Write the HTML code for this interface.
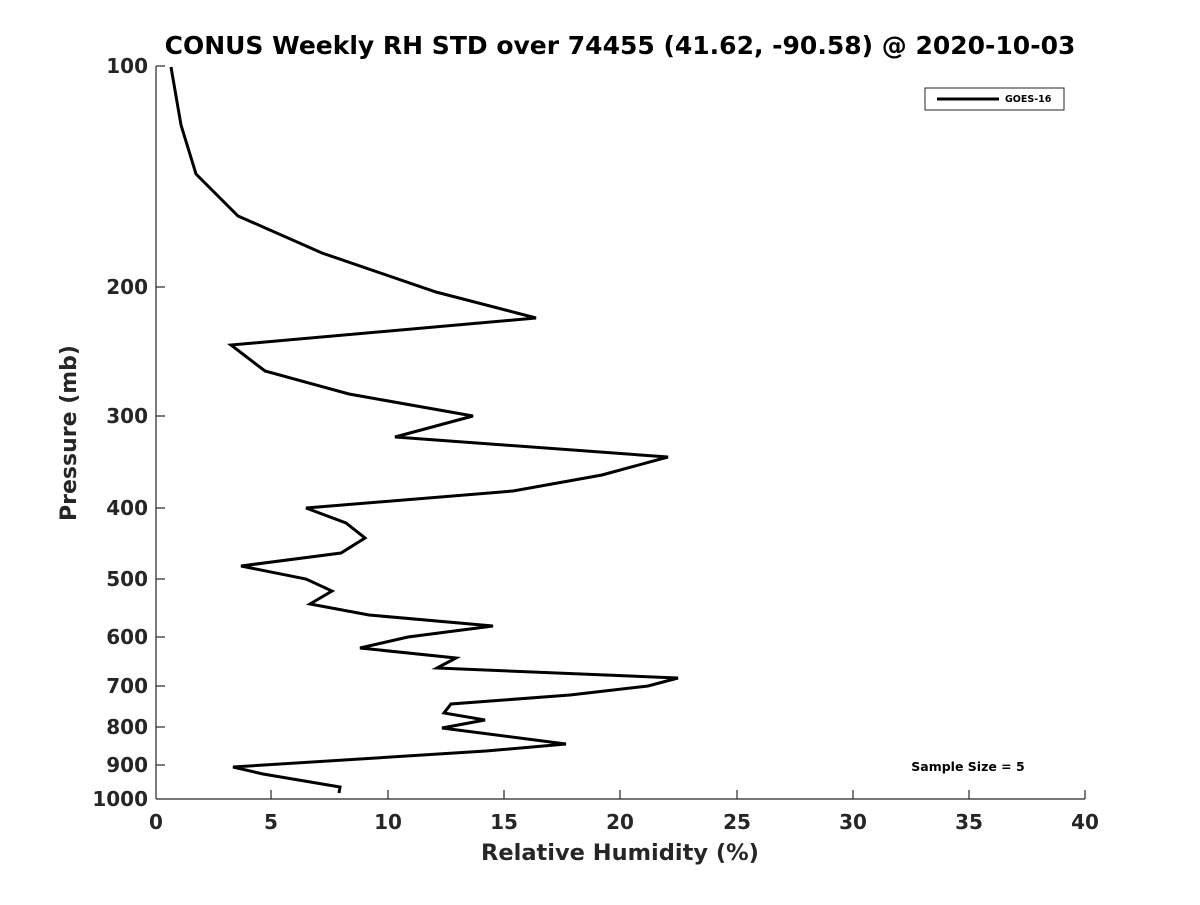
<!DOCTYPE html>
<html><head><meta charset="utf-8"><style>
html,body{margin:0;padding:0;background:#fff;}
svg text{font-family:"DejaVu Sans","Liberation Sans",sans-serif;font-weight:bold;fill:#262626;}
</style></head><body>
<svg width="1200" height="900" viewBox="0 0 1200 900" xmlns="http://www.w3.org/2000/svg">
<rect width="1200" height="900" fill="#fff"/>
<text x="620" y="54" font-size="25" text-anchor="middle" style="fill:#000">CONUS Weekly RH STD over 74455 (41.62, -90.58) @ 2020-10-03</text>
<g stroke="#262626" stroke-width="1.2" fill="none">
<line x1="156" y1="66" x2="156" y2="799"/>
<line x1="156" y1="799" x2="1085" y2="799"/>
<line x1="156" y1="66" x2="165" y2="66"/>
<line x1="156" y1="287" x2="165" y2="287"/>
<line x1="156" y1="416" x2="165" y2="416"/>
<line x1="156" y1="508" x2="165" y2="508"/>
<line x1="156" y1="579" x2="165" y2="579"/>
<line x1="156" y1="637" x2="165" y2="637"/>
<line x1="156" y1="686" x2="165" y2="686"/>
<line x1="156" y1="727" x2="165" y2="727"/>
<line x1="156" y1="765" x2="165" y2="765"/>
<line x1="271" y1="799" x2="271" y2="790"/>
<line x1="388" y1="799" x2="388" y2="790"/>
<line x1="504" y1="799" x2="504" y2="790"/>
<line x1="620" y1="799" x2="620" y2="790"/>
<line x1="737" y1="799" x2="737" y2="790"/>
<line x1="853" y1="799" x2="853" y2="790"/>
<line x1="969" y1="799" x2="969" y2="790"/>
<line x1="1085" y1="799" x2="1085" y2="790"/>
</g>
<g font-size="20" text-anchor="end">
<text x="148" y="73">100</text>
<text x="148" y="294">200</text>
<text x="148" y="423">300</text>
<text x="148" y="515">400</text>
<text x="148" y="586">500</text>
<text x="148" y="644">600</text>
<text x="148" y="693">700</text>
<text x="148" y="734">800</text>
<text x="148" y="772">900</text>
<text x="148" y="806">1000</text>
</g>
<g font-size="20" text-anchor="middle">
<text x="156" y="829">0</text>
<text x="271" y="829">5</text>
<text x="388" y="829">10</text>
<text x="504" y="829">15</text>
<text x="620" y="829">20</text>
<text x="737" y="829">25</text>
<text x="853" y="829">30</text>
<text x="969" y="829">35</text>
<text x="1085" y="829">40</text>
</g>
<text x="620" y="860" font-size="22.5" text-anchor="middle">Relative Humidity (%)</text>
<text transform="translate(76,433) rotate(-90)" font-size="22" text-anchor="middle">Pressure (mb)</text>
<polyline fill="none" stroke="#000" stroke-width="3" points="171,67 181,125 196,174 238,216 322,253 436,292 536,318 231,345 265,371 349,394 473,416 395,437 668,457 602,475 513,491 306,508 346,523 365,538 341,553 241,566 306,579 332,591 310,604 369,615 493,626 408,637 360,648 456,658 437,668 678,678 648,686 570,695 451,704 444,713 485,720 442,728 566,744 486,751 233,767 263,774 340,787 339,793"/>
<rect x="925" y="88" width="139" height="22" fill="#fff" stroke="#262626" stroke-width="1"/>
<line x1="937" y1="99" x2="999" y2="99" stroke="#000" stroke-width="3"/>
<text x="1005" y="102" font-size="9.5" style="fill:#000">GOES-16</text>
<text x="968" y="771" font-size="12.5" text-anchor="middle" style="fill:#000">Sample Size = 5</text>
</svg>
</body></html>
